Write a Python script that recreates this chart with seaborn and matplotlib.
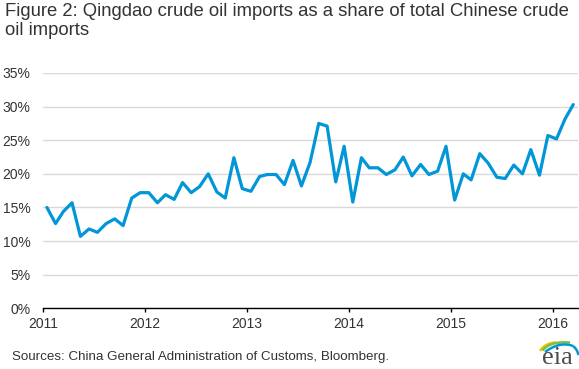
import pandas as pd
import seaborn as sns
import matplotlib.pyplot as plt
import matplotlib.dates as mdates
import numpy as np
from matplotlib.ticker import FuncFormatter

# monthly share of Chinese crude imports landing at Qingdao (%)
months = pd.date_range('2011-01-01', '2016-03-01', freq='MS') + pd.Timedelta(days=14)
share = [
    15.0, 12.6, 14.4, 15.7, 10.7, 11.8, 11.3, 12.6, 13.3, 12.3, 16.4, 17.2,
    17.2, 15.7, 16.9, 16.2, 18.7, 17.2, 18.1, 20.0, 17.3, 16.4, 22.4, 17.8,
    17.4, 19.6, 19.9, 19.9, 18.4, 22.0, 18.2, 21.7, 27.5, 27.1, 18.8, 24.1,
    15.8, 22.4, 20.9, 20.9, 19.9, 20.6, 22.5, 19.7, 21.4, 19.9, 20.4, 24.1,
    16.1, 20.0, 19.1, 23.0, 21.6, 19.5, 19.3, 21.3, 20.0, 23.6, 19.8, 25.7,
    25.2, 28.2, 30.3,
]
y_ticks = [0, 5, 10, 15, 20, 25, 30, 35]

title = 'Figure 2: Qingdao crude oil imports as a share of total Chinese crude\noil imports'
source = 'Sources: China General Administration of Customs, Bloomberg.'

sns.set_style('white')
plt.rcParams['font.family'] = ['Liberation Sans', 'DejaVu Sans']

df = pd.DataFrame({'month': months, 'share': share})

fig = plt.figure(figsize=(5.79, 3.69), dpi=100)
ax = fig.add_axes([43 / 579, 1 - 308.3 / 369, 535 / 579, (308.3 - 73) / 369])

sns.lineplot(data=df, x='month', y='share', color='#0096d7', linewidth=2.3, ax=ax)

ax.set_ylim(0, 35)
ax.set_yticks(y_ticks)
ax.yaxis.set_major_formatter(FuncFormatter(lambda v, p: f'{v:.0f}%'))
ax.set_xlim(pd.Timestamp('2011-01-01'), pd.Timestamp('2016-04-01'))
ax.xaxis.set_major_locator(mdates.YearLocator())
ax.xaxis.set_major_formatter(mdates.DateFormatter('%Y'))
ax.set_xlabel('')
ax.set_ylabel('')

ax.grid(axis='y', color='#d9d9d9', linewidth=1)
ax.set_axisbelow(True)
for s in ['top', 'right', 'left']:
    ax.spines[s].set_visible(False)
ax.spines['bottom'].set_color('black')
ax.spines['bottom'].set_linewidth(1)
ax.tick_params(axis='y', length=0, pad=9, labelsize=10, labelcolor='#333333')
ax.tick_params(axis='x', direction='out', length=3, width=1, color='black',
               pad=3, labelsize=10, labelcolor='#333333', bottom=True)

fig.text(5 / 579, 1 - 3 / 369, title, ha='left', va='top', fontsize=13.3,
         color='#333333', linespacing=1.12)
fig.text(12 / 579, 1 - 357 / 369, source, ha='left', va='center', fontsize=9.6,
         color='#333333')

# eia logo, drawn in pixel coordinates of the figure corner
lax = fig.add_axes([533 / 579, 0, 46 / 579, 34 / 369])
lax.set_xlim(533, 579)
lax.set_ylim(369, 335)
lax.axis('off')


def arc(p0, p1, p2, color):
    t = np.linspace(0, 1, 40)[:, None]
    pts = (1 - t) ** 2 * np.array(p0) + 2 * (1 - t) * t * np.array(p1) + t ** 2 * np.array(p2)
    lax.plot(pts[:, 0], pts[:, 1], color=color, lw=1.8, solid_capstyle='butt')


arc((540, 351), (545, 343), (556, 342.5), '#f5c400')
arc((542.5, 350.5), (550, 341), (570, 342.5), '#7cbf3f')
arc((545, 352), (560, 341), (573, 346), '#0096d7')
arc((573, 346), (577, 349), (578.5, 355), '#0096d7')
lax.text(557, 364.5, 'eia', ha='center', va='baseline', fontsize=19,
         family=['Liberation Serif', 'DejaVu Serif'], color='#4d4d4d')

fig.savefig('out.png', dpi=100)
